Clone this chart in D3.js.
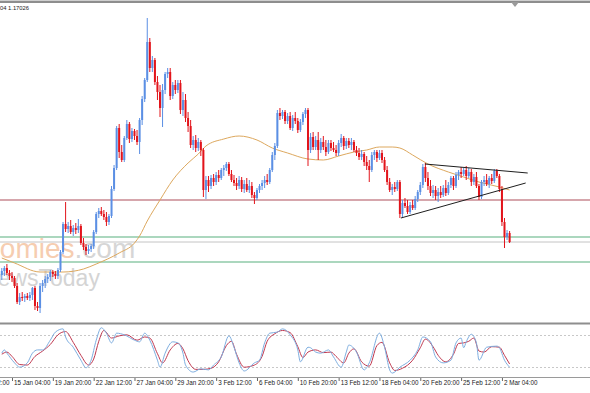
<!DOCTYPE html>
<html>
<head>
<meta charset="utf-8">
<script src="https://d3js.org/d3.v7.min.js"></script>
<style>
  html, body { margin: 0; padding: 0; background: #fff; }
  svg { display: block; font-family: "Liberation Sans", Arial, sans-serif; }
</style>
</head>
<body>
<div id="chart"></div>
<script>
// H4 candles (bar 0 = left edge)
const opens = [
  1.1670,1.1674,1.1677,1.1672,1.1669,1.1667,1.1659,1.1643,1.1648,1.1647,
  1.1649,1.1647,1.1650,1.1657,1.1639,1.1637,1.1659,1.1662,1.1666,1.1668,
  1.1673,1.1671,1.1669,1.1675,1.1693,1.1721,1.1716,1.1719,1.1713,1.1717,
  1.1715,1.1719,1.1702,1.1698,1.1694,1.1696,1.1699,1.1713,1.1731,1.1734,
  1.1731,1.1728,1.1723,1.1729,1.1756,1.1777,1.1817,1.1793,1.1785,1.1807,
  1.1821,1.1806,1.1814,1.1809,1.1803,1.1825,1.1846,1.1865,1.1903,1.1877,
  1.1885,1.1863,1.1853,1.1837,1.1855,1.1871,1.1873,1.1849,1.1860,1.1855,
  1.1862,1.1835,1.1845,1.1827,1.1819,1.1800,1.1805,1.1797,1.1803,1.1795,
  1.1755,1.1765,1.1759,1.1767,1.1763,1.1770,1.1767,1.1775,1.1777,1.1781,
  1.1771,1.1765,1.1762,1.1759,1.1765,1.1756,1.1761,1.1755,1.1759,1.1750,
  1.1747,1.1755,1.1759,1.1762,1.1765,1.1763,1.1775,1.1790,1.1799,1.1832,
  1.1829,1.1833,1.1824,1.1829,1.1817,1.1827,1.1824,1.1815,1.1823,1.1831,
  1.1835,1.1795,1.1808,1.1798,1.1805,1.1795,1.1803,1.1798,1.1793,1.1802,
  1.1797,1.1795,1.1792,1.1802,1.1807,1.1799,1.1804,1.1800,1.1803,1.1795,
  1.1792,1.1788,1.1791,1.1783,1.1779,1.1775,1.1790,1.1793,1.1787,1.1792,
  1.1785,1.1775,1.1763,1.1755,1.1758,1.1756,1.1763,1.1731,1.1742,1.1739,
  1.1733,1.1740,1.1737,1.1746,1.1753,1.1760,1.1778,1.1767,1.1759,1.1752,
  1.1755,1.1749,1.1753,1.1750,1.1757,1.1752,1.1760,1.1767,1.1759,1.1770,
  1.1773,1.1771,1.1775,1.1769,1.1773,1.1763,1.1768,1.1759,1.1748,1.1763,
  1.1765,1.1761,1.1767,1.1764,1.1774,1.1769,1.1756,1.1723,1.1708,1.1712
];
const highs = [
  1.1677,1.1679,1.1681,1.1675,1.1673,1.1669,1.1662,1.1652,1.1653,1.1651,
  1.1652,1.1653,1.1658,1.1659,1.1643,1.1662,1.1665,1.1669,1.1671,1.1675,
  1.1675,1.1674,1.1677,1.1695,1.1723,1.1743,1.1723,1.1725,1.1720,1.1722,
  1.1726,1.1721,1.1707,1.1701,1.1700,1.1701,1.1715,1.1733,1.1737,1.1738,
  1.1735,1.1733,1.1731,1.1759,1.1780,1.1819,1.1821,1.1800,1.1809,1.1825,
  1.1823,1.1817,1.1816,1.1815,1.1827,1.1849,1.1867,1.1927,1.1907,1.1889,
  1.1887,1.1869,1.1860,1.1861,1.1873,1.1877,1.1877,1.1863,1.1865,1.1865,
  1.1865,1.1853,1.1851,1.1833,1.1825,1.1809,1.1810,1.1807,1.1805,1.1797,
  1.1769,1.1769,1.1770,1.1771,1.1773,1.1775,1.1777,1.1780,1.1783,1.1783,
  1.1775,1.1770,1.1767,1.1769,1.1768,1.1765,1.1767,1.1765,1.1763,1.1753,
  1.1757,1.1761,1.1765,1.1769,1.1771,1.1777,1.1793,1.1802,1.1835,1.1837,
  1.1835,1.1835,1.1832,1.1833,1.1830,1.1833,1.1827,1.1826,1.1833,1.1837,
  1.1837,1.1812,1.1813,1.1809,1.1813,1.1807,1.1809,1.1805,1.1805,1.1805,
  1.1803,1.1800,1.1805,1.1811,1.1809,1.1807,1.1807,1.1807,1.1805,1.1799,
  1.1797,1.1795,1.1793,1.1789,1.1785,1.1793,1.1795,1.1795,1.1795,1.1795,
  1.1788,1.1779,1.1767,1.1761,1.1763,1.1765,1.1765,1.1745,1.1747,1.1745,
  1.1743,1.1745,1.1749,1.1755,1.1763,1.1781,1.1782,1.1773,1.1765,1.1760,
  1.1759,1.1757,1.1759,1.1760,1.1765,1.1763,1.1769,1.1769,1.1773,1.1775,
  1.1778,1.1777,1.1779,1.1777,1.1776,1.1771,1.1773,1.1761,1.1765,1.1769,
  1.1771,1.1769,1.1771,1.1776,1.1776,1.1771,1.1759,1.1727,1.1715,1.1714
];
const lows = [
  1.1665,1.1669,1.1670,1.1665,1.1663,1.1657,1.1641,1.1640,1.1644,1.1643,
  1.1645,1.1644,1.1645,1.1635,1.1634,1.1632,1.1653,1.1657,1.1662,1.1664,
  1.1668,1.1666,1.1666,1.1673,1.1691,1.1713,1.1712,1.1711,1.1709,1.1711,
  1.1712,1.1700,1.1695,1.1690,1.1691,1.1693,1.1696,1.1711,1.1727,1.1729,
  1.1725,1.1719,1.1720,1.1727,1.1754,1.1775,1.1787,1.1783,1.1783,1.1805,
  1.1802,1.1803,1.1805,1.1800,1.1791,1.1820,1.1843,1.1863,1.1873,1.1873,
  1.1860,1.1845,1.1828,1.1818,1.1851,1.1867,1.1845,1.1846,1.1851,1.1852,
  1.1831,1.1829,1.1823,1.1813,1.1797,1.1795,1.1793,1.1794,1.1789,1.1748,
  1.1746,1.1753,1.1756,1.1759,1.1760,1.1763,1.1765,1.1769,1.1774,1.1769,
  1.1763,1.1759,1.1755,1.1756,1.1753,1.1752,1.1753,1.1752,1.1747,1.1741,
  1.1745,1.1752,1.1755,1.1757,1.1760,1.1761,1.1773,1.1785,1.1797,1.1825,
  1.1826,1.1821,1.1821,1.1815,1.1814,1.1821,1.1812,1.1813,1.1820,1.1827,
  1.1779,1.1792,1.1795,1.1795,1.1785,1.1792,1.1795,1.1789,1.1791,1.1794,
  1.1793,1.1789,1.1789,1.1798,1.1795,1.1796,1.1797,1.1795,1.1793,1.1789,
  1.1785,1.1785,1.1779,1.1775,1.1763,1.1773,1.1785,1.1783,1.1785,1.1782,
  1.1773,1.1760,1.1753,1.1750,1.1753,1.1754,1.1727,1.1727,1.1737,1.1731,
  1.1731,1.1735,1.1735,1.1743,1.1750,1.1757,1.1763,1.1755,1.1749,1.1747,
  1.1745,1.1743,1.1747,1.1748,1.1749,1.1750,1.1757,1.1755,1.1757,1.1765,
  1.1767,1.1769,1.1765,1.1767,1.1759,1.1760,1.1757,1.1745,1.1746,1.1759,
  1.1759,1.1757,1.1761,1.1762,1.1767,1.1753,1.1719,1.1697,1.1705,1.1702
];
const closes = [
  1.1674,1.1677,1.1672,1.1669,1.1667,1.1659,1.1643,1.1648,1.1647,1.1649,
  1.1647,1.1650,1.1657,1.1639,1.1637,1.1659,1.1662,1.1666,1.1668,1.1673,
  1.1671,1.1669,1.1675,1.1693,1.1721,1.1716,1.1719,1.1713,1.1717,1.1715,
  1.1719,1.1702,1.1698,1.1694,1.1696,1.1699,1.1713,1.1731,1.1734,1.1731,
  1.1728,1.1723,1.1729,1.1756,1.1777,1.1817,1.1793,1.1785,1.1807,1.1821,
  1.1806,1.1814,1.1809,1.1803,1.1825,1.1846,1.1865,1.1903,1.1877,1.1885,
  1.1863,1.1853,1.1837,1.1855,1.1871,1.1873,1.1849,1.1860,1.1855,1.1862,
  1.1835,1.1845,1.1827,1.1819,1.1800,1.1805,1.1797,1.1803,1.1795,1.1755,
  1.1765,1.1759,1.1767,1.1763,1.1770,1.1767,1.1775,1.1777,1.1781,1.1771,
  1.1765,1.1762,1.1759,1.1765,1.1756,1.1761,1.1755,1.1759,1.1750,1.1747,
  1.1755,1.1759,1.1762,1.1765,1.1763,1.1775,1.1790,1.1799,1.1832,1.1829,
  1.1833,1.1824,1.1829,1.1817,1.1827,1.1824,1.1815,1.1823,1.1831,1.1835,
  1.1795,1.1808,1.1798,1.1805,1.1795,1.1803,1.1798,1.1793,1.1802,1.1797,
  1.1795,1.1792,1.1802,1.1807,1.1799,1.1804,1.1800,1.1803,1.1795,1.1792,
  1.1788,1.1791,1.1783,1.1779,1.1775,1.1790,1.1793,1.1787,1.1792,1.1785,
  1.1775,1.1763,1.1755,1.1758,1.1756,1.1763,1.1731,1.1742,1.1739,1.1733,
  1.1740,1.1737,1.1746,1.1753,1.1760,1.1778,1.1767,1.1759,1.1752,1.1755,
  1.1749,1.1753,1.1750,1.1757,1.1752,1.1760,1.1767,1.1759,1.1770,1.1773,
  1.1771,1.1775,1.1769,1.1773,1.1763,1.1768,1.1759,1.1748,1.1763,1.1765,
  1.1761,1.1767,1.1764,1.1774,1.1769,1.1756,1.1723,1.1708,1.1712,1.1703
];

// moving average, sampled at bars
const maBars   = [0, 5, 15, 24, 32, 37, 46, 52, 54, 57, 62, 67, 73, 77, 80, 87, 93, 100, 106, 112, 120, 126, 132, 138, 143, 148, 153, 156, 161, 167, 175, 181, 187, 195, 199];
const maValues = [1.1687,1.1682,1.1673,1.1673,1.1676,1.1681,1.1692,1.1702,1.1709,1.1724,1.1745,1.1765,1.1782,1.1791,1.1799,1.1806,1.1809,1.1805,1.1797,1.1792,1.1786,1.1785,1.1789,1.1793,1.1795,1.1798,1.1798,1.1797,1.1790,1.1781,1.1773,1.1768,1.1763,1.1758,1.1755];

// horizontal levels and the triangle
const redLevel = 1.1745;
const greenLevels = [1.1708, 1.1683];
const bidPrice = 1.1703;
const trendFrom = [[165.8, 1.1781], [156.4, 1.1727]];
const trendTo   = [[206.1, 1.1772], [205.3, 1.1762]];

// stochastic
const stochBars = [0,1,2,5,7,10,12,14,16,19,21,24,25,28,31,33,35,37,39,41,43,45,48,52,54,56,58,61,62,64,67,69,71,72,75,78,81,83,86,89,91,93,95,99,101,103,105,108,110,113,116,117,120,121,123,125,128,130,133,135,136,139,142,144,148,150,152,153,156,160,163,165,168,170,173,176,178,180,181,182,184,186,187,190,194,195,197,199];
const stochMain = [46,52,46,28,20,28,46,52,52,70,85,91,76,57,33,19,33,70,93,83,65,83,80,70,67,83,70,33,20,46,67,65,46,24,11,17,15,24,39,78,57,28,13,28,33,65,83,85,91,80,52,30,57,56,48,46,52,39,20,48,61,48,15,28,83,57,15,9,20,33,52,76,67,39,28,33,65,74,56,67,81,65,33,57,59,56,33,20];
const signalBars = [0,2,4,7,10,13,16,19,22,25,28,31,34,36,38,40,43,46,49,53,56,58,61,63,66,69,71,73,76,79,82,85,88,90,92,95,99,102,104,107,110,113,116,118,120,123,126,129,131,134,136,138,141,144,147,149,152,154,157,161,164,166,169,171,174,177,179,181,183,185,187,189,192,195,197,199];
const stochSignal = [44,48,40,25,24,40,50,62,80,86,66,42,24,35,68,88,74,78,80,70,76,74,45,28,52,64,54,32,16,16,18,30,60,68,44,20,24,40,68,82,88,84,58,38,48,52,47,48,40,28,46,54,30,22,60,66,28,14,18,33,56,72,58,42,30,44,64,65,68,74,50,48,58,57,42,26];
const stochLevels = [80, 20];

// time axis
const labelBars = [-12, 4, 20, 36, 52, 68, 84, 100, 116, 132, 148, 164, 180, 196];
const labelText = ['12 Jan 12:00','15 Jan 04:00','19 Jan 20:00','22 Jan 12:00','27 Jan 04:00','29 Jan 20:00','3 Feb 12:00','6 Feb 04:00','10 Feb 20:00','13 Feb 12:00','18 Feb 04:00','20 Feb 20:00','25 Feb 12:00','2 Mar 04:00'];

const W = 590, H = 393;
const bull = '#5b8fe4', bear = '#e2141b';

const svg = d3.select('#chart').append('svg').attr('width', W).attr('height', H);

const x = d3.scaleLinear().domain([0, 199]).range([1.8, 509.6]);
const y = d3.scaleLinear().domain([1.1941, 1.1632]).range([4, 313]);
const ys = d3.scaleLinear().domain([0, 100]).range([378, 324]);

const defs = svg.append('defs');
defs.append('clipPath').attr('id', 'clipMain').append('rect').attr('x', 0).attr('y', 3).attr('width', W).attr('height', 319);
defs.append('clipPath').attr('id', 'clipStoch').append('rect').attr('x', 0).attr('y', 325).attr('width', W).attr('height', 52);

// top frame and shift marker
svg.append('rect').attr('x', 0).attr('y', 0).attr('width', W).attr('height', 1).attr('fill', '#cfcfcf');
svg.append('rect').attr('x', 0).attr('y', 1).attr('width', W).attr('height', 2).attr('fill', '#8e8e8e');
svg.append('path').attr('d', 'M511,2L519,2L515,7Z').attr('fill', '#9a9a9a');

const main = svg.append('g').attr('clip-path', 'url(#clipMain)');

// watermark
main.append('text').attr('x', -64).attr('y', 258).attr('font-size', 28).attr('fill', '#f6cdb0')
  .text('Econ').append('tspan').text('omies').append('tspan').attr('fill', '#d6d6d6').text('.com');
main.append('text').attr('x', -19).attr('y', 286).attr('font-size', 23).attr('fill', '#d4d4d4').text('NewsToday');

// header
svg.append('text').attr('x', 0).attr('y', 9.5).attr('font-size', 5.8).attr('fill', '#222').text('04 1.17026');

// horizontal levels
main.append('line').attr('x1', 0).attr('x2', W).attr('y1', y(redLevel)).attr('y2', y(redLevel))
  .attr('stroke', '#c98890').attr('stroke-width', 1.6);
main.selectAll('line.green').data(greenLevels).join('line').attr('class', 'green')
  .attr('x1', 0).attr('x2', W).attr('y1', d => y(d)).attr('y2', d => y(d))
  .attr('stroke', '#8fcaa9').attr('stroke-width', 1.3);
main.append('line').attr('x1', 0).attr('x2', W).attr('y1', y(bidPrice)).attr('y2', y(bidPrice))
  .attr('stroke', '#c4c4c4').attr('stroke-width', 1);

// moving average
main.append('path')
  .attr('d', d3.line().x(d => x(d[0])).y(d => y(d[1])).curve(d3.curveMonotoneX)(maBars.map((b, k) => [b, maValues[k]])))
  .attr('fill', 'none').attr('stroke', '#dda85e').attr('stroke-width', 1);

// candles
const bars = closes.map((c, i) => ({ i, o: opens[i], h: highs[i], l: lows[i], c }));
const cg = main.append('g');
cg.selectAll('line').data(bars).join('line')
  .attr('x1', d => x(d.i)).attr('x2', d => x(d.i))
  .attr('y1', d => y(d.h)).attr('y2', d => y(d.l))
  .attr('stroke', d => d.c >= d.o ? bull : bear).attr('stroke-width', 1);
cg.selectAll('rect').data(bars).join('rect')
  .attr('x', d => x(d.i) - 1).attr('width', 2)
  .attr('y', d => y(Math.max(d.o, d.c)))
  .attr('height', d => Math.max(1, y(Math.min(d.o, d.c)) - y(Math.max(d.o, d.c))))
  .attr('fill', d => d.c >= d.o ? bull : bear);

// triangle lines
main.selectAll('line.trend').data(trendFrom).join('line').attr('class', 'trend')
  .attr('x1', d => x(d[0])).attr('y1', d => y(d[1]))
  .attr('x2', (d, k) => x(trendTo[k][0])).attr('y2', (d, k) => y(trendTo[k][1]))
  .attr('stroke', '#1e1e1e').attr('stroke-width', 1);

// stochastic panel
svg.append('rect').attr('x', 0).attr('y', 322.5).attr('width', W).attr('height', 2).attr('fill', '#8e8e8e');
const st = svg.append('g').attr('clip-path', 'url(#clipStoch)');
st.selectAll('line.lvl').data(stochLevels).join('line').attr('class', 'lvl')
  .attr('x1', 0).attr('x2', W).attr('y1', d => Math.round(ys(d)) + 0.5).attr('y2', d => Math.round(ys(d)) + 0.5)
  .attr('stroke', '#c8c8c8').attr('stroke-dasharray', '2 2');
const sLine = d3.line().x(d => x(d[0])).y(d => ys(d[1])).curve(d3.curveMonotoneX);
st.append('path').attr('d', sLine(signalBars.map((b, k) => [b, stochSignal[k]])))
  .attr('fill', 'none').attr('stroke', '#c0384f').attr('stroke-width', 1);
st.append('path').attr('d', sLine(stochBars.map((b, k) => [b, stochMain[k]])))
  .attr('fill', 'none').attr('stroke', '#7eaee0').attr('stroke-width', 1);

// time axis
svg.append('line').attr('x1', 0).attr('x2', W).attr('y1', 377.5).attr('y2', 377.5).attr('stroke', '#9a9a9a');
const xAxis = d3.axisBottom(x).tickValues(labelBars).tickSize(3)
  .tickFormat((d, k) => labelText[k]);
const ax = svg.append('g').attr('transform', 'translate(0,378)').call(xAxis);
ax.select('.domain').remove();
ax.selectAll('.tick line').attr('stroke', '#666');
ax.selectAll('.tick text').attr('text-anchor', 'start').attr('x', 1.5).attr('y', 3)
  .attr('font-size', 6.3).attr('font-family', '"Liberation Sans", Arial, sans-serif').attr('fill', '#222');
</script>
</body>
</html>
